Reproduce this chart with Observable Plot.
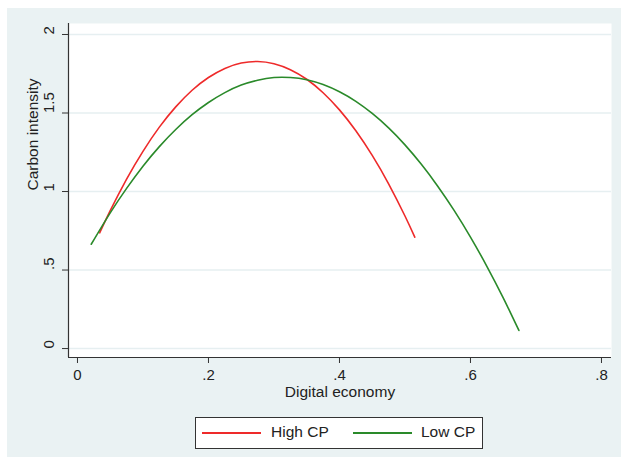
<!DOCTYPE html>
<html>
<head>
<meta charset="utf-8">
<script src="https://cdn.jsdelivr.net/npm/d3@7"></script>
<script src="https://cdn.jsdelivr.net/npm/@observablehq/plot@0.6"></script>
<style>
  html, body { margin: 0; padding: 0; background: white; }
  #wrap { position: relative; width: 621px; height: 457px; background: white; overflow: hidden;
          font-family: "Liberation Sans", Arial, sans-serif; }
  #panel { position: absolute; left: 7px; top: 8px; right: 0; bottom: 0; background: #eaf2f3; }
  #chart { position: absolute; left: 0; top: 0; }
  #legend { position: absolute; left: 195px; top: 417px; width: 286px; height: 30px;
            background: white; border: 1px solid #333; box-sizing: content-box; }
  .sw { position: absolute; top: 14px; height: 2px; width: 59px; }
  .lt { position: absolute; top: 5px; font-size: 15.5px; color: #222; line-height: 18px; }
</style>
</head>
<body>
<div id="wrap">
  <div id="panel"></div>
  <div id="chart"></div>
  <div id="legend">
    <div class="sw" style="left:6px;background:#ee2a2a"></div>
    <div class="lt" style="left:75px">High CP</div>
    <div class="sw" style="left:157px;background:#2a8a2a"></div>
    <div class="lt" style="left:225px">Low CP</div>
  </div>
</div>
<script>
// Values
const highX = [0.034, 0.05, 0.075, 0.1, 0.125, 0.15, 0.175, 0.2, 0.225, 0.25, 0.275, 0.3, 0.325, 0.35, 0.375, 0.4, 0.425, 0.45, 0.475, 0.5, 0.515];
const highY = [0.737, 0.878, 1.079, 1.256, 1.410, 1.539, 1.645, 1.726, 1.784, 1.818, 1.828, 1.814, 1.776, 1.715, 1.629, 1.520, 1.387, 1.230, 1.049, 0.844, 0.709];
const lowX = [0.021, 0.05, 0.075, 0.1, 0.125, 0.15, 0.175, 0.2, 0.225, 0.25, 0.275, 0.3, 0.325, 0.35, 0.375, 0.4, 0.425, 0.45, 0.475, 0.5, 0.525, 0.55, 0.575, 0.6, 0.625, 0.65, 0.674];
const lowY = [0.664, 0.864, 1.020, 1.161, 1.286, 1.395, 1.489, 1.567, 1.630, 1.678, 1.709, 1.726, 1.726, 1.712, 1.681, 1.635, 1.574, 1.497, 1.405, 1.297, 1.173, 1.034, 0.880, 0.710, 0.524, 0.323, 0.115];
const xTicks = [0, 0.2, 0.4, 0.6, 0.8];
const xTickLabels = ["0", ".2", ".4", ".6", ".8"];
const yTicks = [0, 0.5, 1, 1.5, 2];
const yTickLabels = ["0", ".5", "1", "1.5", "2"];
const xTitle = "Digital economy";
const yTitle = "Carbon intensity";

const high = highX.map((x, i) => ({x, y: highY[i]}));
const low = lowX.map((x, i) => ({x, y: lowY[i]}));
const xDomain = [-0.0137, 0.8153];
const yDomain = [-0.057, 2.07];
const ink = "#222";

const chart = Plot.plot({
  width: 621,
  height: 410,
  marginLeft: 68,
  marginRight: 10,
  marginTop: 23,
  marginBottom: 53,
  style: {background: "transparent", fontFamily: "'Liberation Sans', Arial, sans-serif", fontSize: "15px", color: ink, overflow: "visible"},
  x: {domain: xDomain},
  y: {domain: yDomain},
  marks: [
    Plot.frame({fill: "white", stroke: null}),
    Plot.gridY(yTicks, {stroke: "#e6eff1", strokeOpacity: 1, strokeWidth: 1.6}),
    Plot.line(high, {x: "x", y: "y", stroke: "#ee2a2a", strokeWidth: 1.6, curve: "natural"}),
    Plot.line(low, {x: "x", y: "y", stroke: "#2a8a2a", strokeWidth: 1.6, curve: "natural"}),
    Plot.ruleX([xDomain[0]], {stroke: "#333", strokeWidth: 1.2}),
    Plot.ruleY([yDomain[0]], {stroke: "#333", strokeWidth: 1.2}),
    Plot.axisX({ticks: xTicks, tickFormat: (d) => xTickLabels[xTicks.indexOf(d)], tickSize: 6, tickPadding: 6, label: null, fontSize: 15, stroke: "#333", fill: ink}),
    Plot.axisY({ticks: yTicks, tickFormat: () => "", tickSize: 6, label: null, stroke: "#333"}),
    Plot.text(yTicks, {y: (d) => d, text: (d, i) => yTickLabels[i], frameAnchor: "left", dx: -19, rotate: -90, fontSize: 15, fill: ink}),
    Plot.text([xTitle], {frameAnchor: "bottom", dy: 39, fontSize: 15.5, fill: ink}),
    Plot.text([yTitle], {frameAnchor: "left", dx: -35, rotate: -90, fontSize: 15.5, fill: ink})
  ]
});
document.getElementById("chart").appendChild(chart);
</script>
</body>
</html>
